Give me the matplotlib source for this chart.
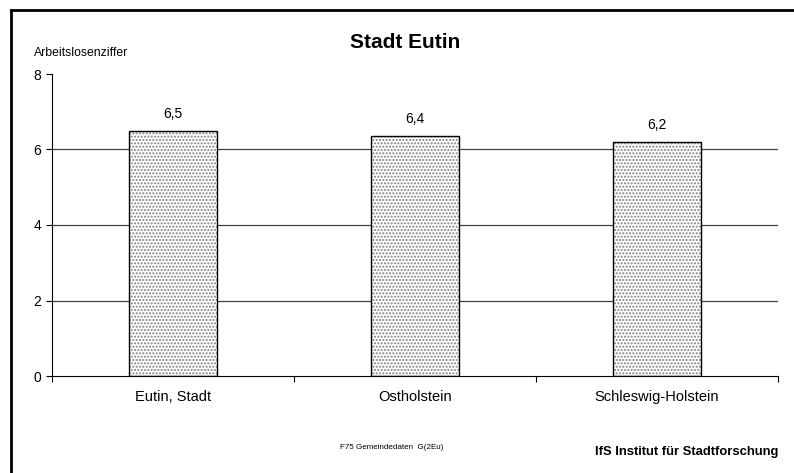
import matplotlib
matplotlib.use("Agg")
import matplotlib.pyplot as plt
from matplotlib.lines import Line2D
import numpy as np

plt.rcParams['font.family'] = ['Liberation Sans', 'DejaVu Sans']
plt.rcParams['hatch.linewidth'] = 1.0

categories = ["Eutin, Stadt", "Ostholstein", "Schleswig-Holstein"]
values = [6.5, 6.35, 6.2]
value_labels = ["6,5", "6,4", "6,2"]
yticks = [0, 2, 4, 6, 8]

fig = plt.figure(figsize=(7.94, 4.73), dpi=100)
ax = fig.add_axes([52/794, 1-376/473, (778-52)/794, (376-74)/473])

x = np.arange(len(categories))
ax.bar(x, values, width=0.36, color='white', edgecolor='#808080', hatch='.....', linewidth=0, zorder=2)
ax.bar(x, values, width=0.36, fill=False, edgecolor='black', linewidth=1.0, zorder=3)
for xi, v, lab in zip(x, values, value_labels):
    ax.text(xi, v + 0.26, lab, ha='center', va='bottom', fontsize=10)

ax.set_xlim(-0.5, len(categories) - 0.5)
ax.set_ylim(0, 8)
ax.set_yticks(yticks)
ax.set_yticklabels([str(t) for t in yticks], fontsize=10)
for t in yticks[1:-1]:
    ax.axhline(t, color='#404040', linewidth=0.9, zorder=1)

ax.set_xticks(np.arange(len(categories) + 1) - 0.5)
ax.set_xticklabels([])
ax.set_xticks(x, minor=True)
ax.set_xticklabels(categories, minor=True, fontsize=10.5)
ax.tick_params(axis='x', which='major', length=4, direction='out', color='black', width=0.8)
ax.tick_params(axis='x', which='minor', length=0, pad=10)
ax.tick_params(axis='y', length=4, direction='out', width=0.8, pad=4)
for s in ['top', 'right']:
    ax.spines[s].set_visible(False)
ax.spines['left'].set_linewidth(0.8)
ax.spines['bottom'].set_linewidth(0.8)

fig.text(405/794, 1-42/473, "Stadt Eutin", ha='center', va='center', fontsize=15, fontweight='bold')
fig.text(34/794, 1-53/473, "Arbeitslosenziffer", ha='left', va='center', fontsize=8.8)
fig.text(392/794, 1-447/473, "F75 Gemeindedaten  G(2Eu)", ha='center', va='center', fontsize=5.8)
fig.text(778/794, 1-452/473, "IfS Institut für Stadtforschung", ha='right', va='center', fontsize=9.4, fontweight='bold')

fig.add_artist(Line2D([11/794, 11/794], [0, 1-10/473], transform=fig.transFigure, color='black', linewidth=2))
fig.add_artist(Line2D([11/794, 1], [1-10/473, 1-10/473], transform=fig.transFigure, color='black', linewidth=2))

fig.savefig("out.png", dpi=100)
